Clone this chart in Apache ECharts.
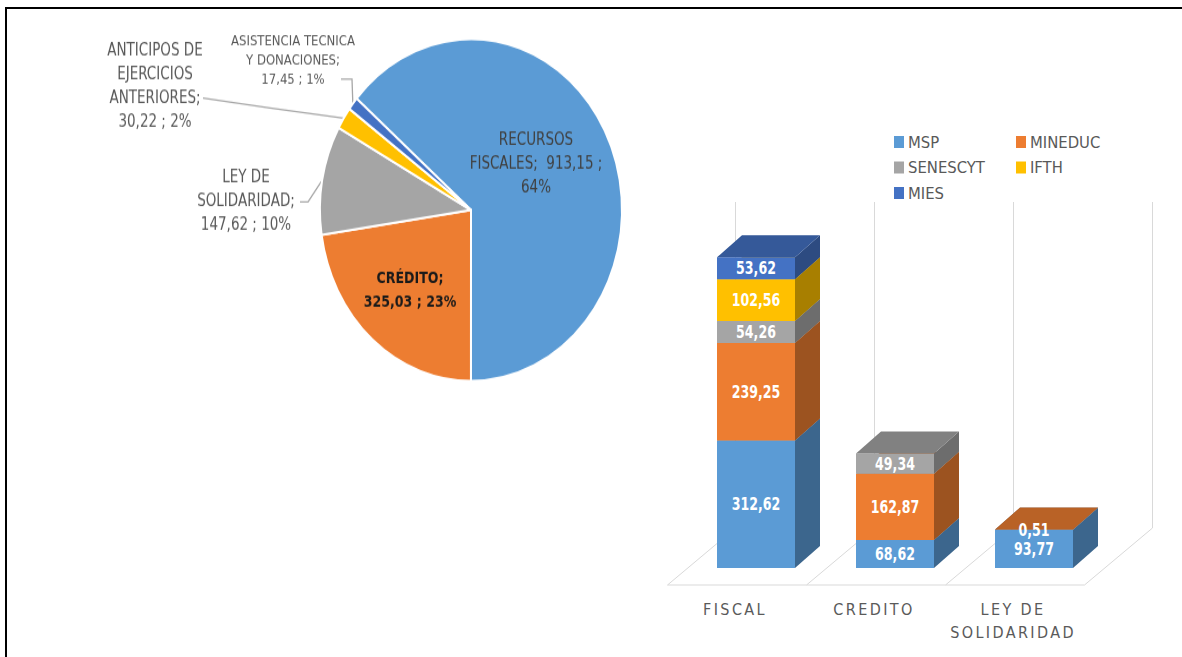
<!DOCTYPE html>
<html>
<head>
<meta charset="utf-8">
<script src="https://cdn.jsdelivr.net/npm/echarts@6/dist/echarts.min.js"></script>
<style>
  html, body { margin: 0; padding: 0; background: #fff; width: 1182px; height: 657px; overflow: hidden; }
  #bars { position: absolute; left: 0; top: 0; width: 1182px; height: 657px; }
  /* pie panel is drawn slightly taller than wide */
  #pie { position: absolute; left: 0; top: 0; width: 640px; height: 360px; transform: scaleY(1.132); transform-origin: 0 0; }
  #frame { position: absolute; left: 5px; top: 7px; right: 0; bottom: 0; border-left: 2px solid #000; border-top: 2px solid #000; pointer-events: none; }
  /* spaced-out category names under the bars */
  #bars text[fill="#5a5a5a"] { letter-spacing: 2.4px; }
</style>
</head>
<body>
<div id="bars"></div>
<div id="pie"></div>
<div id="frame"></div>
<script>
// ---------- financing sources (pie) ----------
const sourceNames = [
  'RECURSOS FISCALES',
  'CRÉDITO',
  'LEY DE SOLIDARIDAD',
  'ANTICIPOS DE EJERCICIOS ANTERIORES',
  'ASISTENCIA TECNICA Y DONACIONES'
];
const sourceValues = [913.15, 325.03, 147.62, 30.22, 17.45];
const sourceColors = ['#5B9BD5', '#ED7D31', '#A5A5A5', '#FFC000', '#4472C4'];
const sourceLabelTemplates = [
  'RECURSOS\nFISCALES;  {v} ;\n{p}',
  'CRÉDITO;\n{v} ; {p}',
  'LEY DE\nSOLIDARIDAD;\n{v} ; {p}',
  'ANTICIPOS DE\nEJERCICIOS\nANTERIORES;\n{v} ; {p}',
  'ASISTENCIA TECNICA\nY DONACIONES;\n{v} ; {p}'
];

// ---------- allocation by institution (stacked 3D bars) ----------
const categories = ['FISCAL', 'CREDITO', 'LEY DE\nSOLIDARIDAD'];
const institutionNames = ['MSP', 'MINEDUC', 'SENESCYT', 'IFTH', 'MIES'];
const msp      = [312.62, 68.62, 93.77];
const mineduc  = [239.25, 162.87, 0.51];
const senescyt = [54.26, 49.34, 0];
const ifth     = [102.56, 0, 0];
const mies     = [53.62, 0, 0];
const institutionColors = ['#5B9BD5', '#ED7D31', '#A5A5A5', '#FFC000', '#4472C4'];

// ---------- layout / style ----------
const NARROW = '"Liberation Sans Narrow", "Arial Narrow", "DejaVu Sans Condensed", sans-serif';
const STRETCH = 1.132;               // must equal the CSS scaleY of #pie
const fmt = v => v.toFixed(2).replace('.', ',');

// pie label anchors and leader-line bends, in page pixels
const LABEL_AT = [[536, 164], [410, 291], [246, 202], [155, 87], [293, 61]];
const LINE_BEND = [null, null, [[308, 202], [300, 202]], [[270, 108], [203, 98]], [[352, 79], [341, 79]]];

const pie = echarts.init(document.getElementById('pie'));
pie.setOption({
  animation: false,
  series: [{
    type: 'pie',
    center: [471, 210 / STRETCH],
    radius: 151,
    startAngle: 139.3,
    clockwise: true,
    avoidLabelOverlap: false,
    itemStyle: { borderColor: '#fff', borderWidth: 2 },
    label: {
      fontFamily: NARROW, fontSize: 15, lineHeight: 21, color: '#595959',
      formatter: p => sourceLabelTemplates[p.dataIndex]
        .replace('{v}', fmt(p.value))
        .replace('{p}', Math.round(p.percent) + '%')
    },
    labelLine: { lineStyle: { color: '#a6a6a6', width: 1.3 }, length: 10, length2: 10 },
    labelLayout: function (p) {
      const a = LABEL_AT[p.dataIndex];
      const out = { x: a[0], y: a[1] / STRETCH, align: 'center', verticalAlign: 'middle' };
      const bend = LINE_BEND[p.dataIndex];
      if (bend && p.labelLinePoints) {
        out.labelLinePoints = [p.labelLinePoints[0]].concat(bend.map(q => [q[0], q[1] / STRETCH]));
      }
      return out;
    },
    data: sourceNames.map((n, i) => {
      const item = { name: n, value: sourceValues[i], itemStyle: { color: sourceColors[i] } };
      if (i === 0) item.label = { position: 'inside', color: '#404040' };
      else if (i === 1) item.label = { position: 'inside', color: '#1a1a1a', fontWeight: 'bold', fontSize: 14 };
      else if (i === 4) item.label = { position: 'outside', fontSize: 13, lineHeight: 17 };
      else item.label = { position: 'outside' };
      return item;
    })
  }]
});

// ---------- 3D stacked bars ----------
const VALUE_MAX = 800;
const BAR_W = 78;
const DEPTH = [25, -22];          // bar depth offset
const FLOOR_FRONT = [-19, 17];    // floor front edge relative to bar front plane
const FLOOR_BACK = [49, -40];     // back wall relative to bar front plane

function shade(hex, f) {
  const n = parseInt(hex.slice(1), 16);
  const r = Math.round(((n >> 16) & 255) * f), g = Math.round(((n >> 8) & 255) * f), b = Math.round((n & 255) * f);
  return 'rgb(' + r + ',' + g + ',' + b + ')';
}

const stacks = [msp, mineduc, senescyt, ifth, mies];
const base = categories.map(() => 0);
const barSeries = stacks.map((vals, s) => {
  const data = vals.map((v, c) => {
    const d = [c, base[c], v];
    base[c] += v;
    return d;
  });
  const color = institutionColors[s];
  return {
    type: 'custom',
    name: institutionNames[s],
    itemStyle: { color: color },
    encode: { x: 0, y: 2 },
    data: data,
    renderItem: function (params, api) {
      const c = api.value(0), b = api.value(1), v = api.value(2);
      if (!v) return null;
      const p0 = api.coord([c, b]);
      const p1 = api.coord([c, b + v]);
      const x0 = p0[0] - BAR_W / 2, x1 = p0[0] + BAR_W / 2;
      const yb = p0[1], yt = p1[1];
      const dx = DEPTH[0], dy = DEPTH[1];
      return {
        type: 'group',
        children: [
          { type: 'rect', shape: { x: x0, y: yt, width: BAR_W, height: yb - yt }, style: { fill: color } },
          { type: 'polygon', shape: { points: [[x1, yb], [x1 + dx, yb + dy], [x1 + dx, yt + dy], [x1, yt]] }, style: { fill: shade(color, 0.66) } },
          { type: 'polygon', shape: { points: [[x0, yt], [x1, yt], [x1 + dx, yt + dy], [x0 + dx, yt + dy]] }, style: { fill: shade(color, 0.78) } },
          { type: 'text', x: p0[0], y: (yb + yt) / 2, scaleY: 1.3,
            style: { text: fmt(v), fill: '#fff', font: 'bold 14px ' + NARROW, align: 'center', verticalAlign: 'middle' } }
        ]
      };
    }
  };
});

const floorSeries = {
  type: 'custom',
  name: 'floor',
  silent: true,
  encode: { x: 0, y: 1 },
  data: categories.map((_, i) => [i, 0]),
  renderItem: function (params, api) {
    const i = api.value(0);
    const bw = api.size([1, 0])[0];
    const c = api.coord([i, 0]);
    const yTop = api.coord([i, VALUE_MAX])[1];
    const edges = [c[0] - bw / 2];
    if (i === categories.length - 1) edges.push(c[0] + bw / 2);
    const ls = { stroke: '#d9d9d9', lineWidth: 1 };
    const children = [{
      type: 'line',
      shape: { x1: c[0] - bw / 2 + FLOOR_FRONT[0], y1: c[1] + FLOOR_FRONT[1], x2: c[0] + bw / 2 + FLOOR_FRONT[0], y2: c[1] + FLOOR_FRONT[1] },
      style: ls
    }];
    edges.forEach(x => {
      children.push({ type: 'line', shape: { x1: x + FLOOR_FRONT[0], y1: c[1] + FLOOR_FRONT[1], x2: x + FLOOR_BACK[0], y2: c[1] + FLOOR_BACK[1] }, style: ls });
      children.push({ type: 'line', shape: { x1: x + FLOOR_BACK[0], y1: c[1] + FLOOR_BACK[1], x2: x + FLOOR_BACK[0], y2: yTop + FLOOR_BACK[1] }, style: ls });
    });
    return { type: 'group', children: children };
  }
};

const bars = echarts.init(document.getElementById('bars'), null, { renderer: 'svg' });
const legendCommon = {
  orient: 'vertical', icon: 'rect', itemWidth: 10, itemHeight: 12, itemGap: 8.5, padding: 0,
  selectedMode: false,
  textStyle: { fontFamily: NARROW, fontSize: 16.5, lineHeight: 17, color: '#595959', padding: [0, 0, 0, -1] }
};
bars.setOption({
  animation: false,
  grid: { left: 686.5, right: 78.5, top: 242, bottom: 89 },
  legend: [
    Object.assign({ data: ['MSP', 'SENESCYT', 'MIES'], left: 894, top: 133.5 }, legendCommon),
    Object.assign({ data: ['MINEDUC', 'IFTH'], left: 1016, top: 133.5 }, legendCommon)
  ],
  xAxis: {
    type: 'category',
    data: categories,
    axisLine: { show: false },
    axisTick: { show: false },
    splitLine: { show: false },
    axisLabel: {
      fontFamily: NARROW, fontSize: 16, lineHeight: 23, color: '#5a5a5a',
      margin: 30, padding: [0, 42, 0, 0], interval: 0
    }
  },
  yAxis: { type: 'value', min: 0, max: VALUE_MAX, show: false },
  series: [floorSeries].concat(barSeries)
});
</script>
</body>
</html>
